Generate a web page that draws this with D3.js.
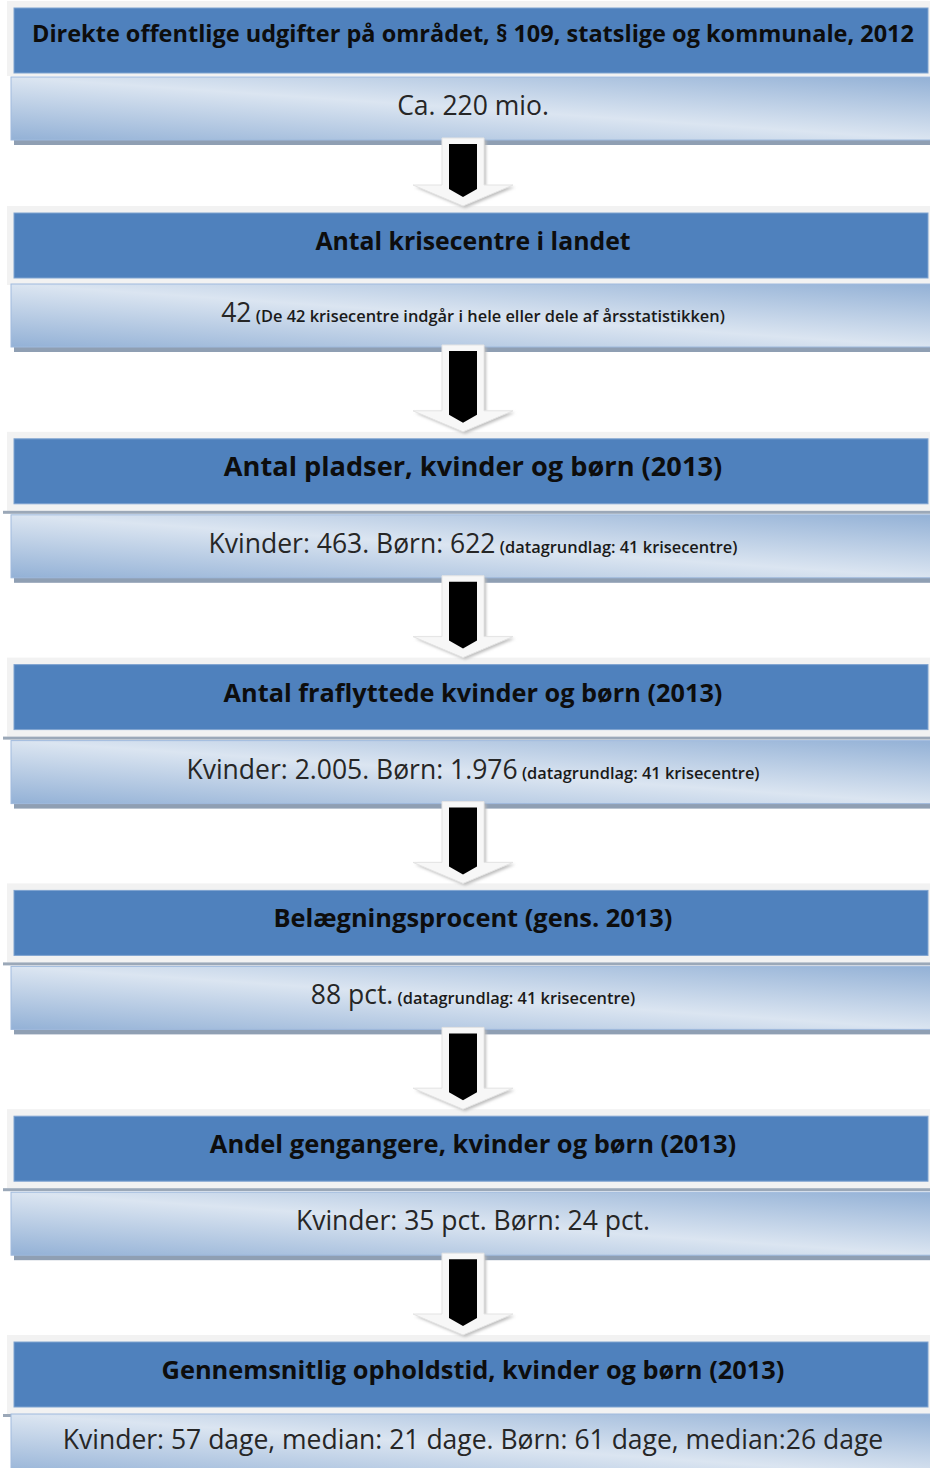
<!DOCTYPE html>
<html>
<head>
<meta charset="utf-8">
<script src="https://cdn.jsdelivr.net/npm/d3@7"></script>
<style>
  body { margin: 0; background: #fff; }
  svg { display: block; }
</style>
</head>
<body>
<script>
// flow boxes, top to bottom
let headers = [
  'Direkte offentlige udgifter på området, § 109, statslige og kommunale, 2012',
  'Antal krisecentre i landet',
  'Antal pladser, kvinder og børn (2013)',
  'Antal fraflyttede kvinder og børn (2013)',
  'Belægningsprocent (gens. 2013)',
  'Andel gengangere, kvinder og børn (2013)',
  'Gennemsnitlig opholdstid, kvinder og børn (2013)'
];
let mainValues = [
  'Ca. 220 mio.',
  '42',
  'Kvinder: 463. Børn: 622',
  'Kvinder: 2.005. Børn: 1.976',
  '88 pct.',
  'Kvinder: 35 pct. Børn: 24 pct.',
  'Kvinder: 57 dage, median: 21 dage. Børn: 61 dage, median:26 dage'
];
let notes = [
  '',
  '(De 42 krisecentre indgår i hele eller dele af årsstatistikken)',
  '(datagrundlag: 41 krisecentre)',
  '(datagrundlag: 41 krisecentre)',
  '(datagrundlag: 41 krisecentre)',
  '',
  ''
];
let headerFont = [23.5, 24.8, 27.2, 25.3, 25.4, 25.5, 25.4];

let width = 930;
let height = 1468;
let font = '"Open Sans", Lato, sans-serif';

let svg = d3.select('body')
  .append('svg')
  .attr('width', width)
  .attr('height', height);

let rows = d3.range(headers.length);

// header top of each row
let y = d3.scaleLinear().domain([0, 1, rows.length - 1]).range([8, 213, 1342]);
let headerX = 14;
let headerW = 914;
let headerH = 65;
let valueH = 63;
let arrowX = 463;

let valueTop = i => y(i) + (i === 0 ? 69 : i === 1 ? 71 : i === rows.length - 1 ? 72 : 76);

let defs = svg.append('defs');
let grad = defs.append('linearGradient')
  .attr('id', 'valueGrad')
  .attr('x1', 0).attr('y1', 1)
  .attr('x2', 1).attr('y2', 0);
grad.append('stop').attr('offset', 0).attr('stop-color', '#93b1d6');
grad.append('stop').attr('offset', 0.5).attr('stop-color', '#dbe5f1');
grad.append('stop').attr('offset', 1).attr('stop-color', '#93b1d6');

let blur = defs.append('filter').attr('id', 'soft')
  .attr('x', -0.2).attr('y', -0.2).attr('width', 1.4).attr('height', 1.4);
blur.append('feGaussianBlur').attr('stdDeviation', 1.5);

let g = svg.selectAll('g.row').data(rows)
  .enter().append('g')
  .attr('class', 'row');

// light frame behind header
g.append('rect')
  .attr('x', headerX - 7)
  .attr('y', i => y(i) - 7)
  .attr('width', width)
  .attr('height', i => i === 0 ? 75 : 79)
  .attr('fill', '#f2f2f2');

// dark line under frame
g.filter(i => i > 1).append('rect')
  .attr('x', headerX - 11)
  .attr('y', i => y(i) + 72)
  .attr('width', width)
  .attr('height', 3)
  .attr('fill', '#9ba8b8');

g.append('rect')
  .attr('x', headerX)
  .attr('y', i => y(i))
  .attr('width', headerW)
  .attr('height', headerH)
  .attr('fill', '#4f81bd')
  .attr('stroke', '#7fa3d0')
  .attr('stroke-width', 1);

g.append('text')
  .attr('x', headerX + headerW / 2 + 2)
  .attr('y', i => y(i) + (i === 0 ? 34 : 37))
  .attr('text-anchor', 'middle')
  .attr('font-family', font)
  .attr('font-weight', 'bold')
  .attr('font-size', i => headerFont[i])
  .attr('fill', '#0d0d0d')
  .text(i => headers[i]);

// value box with shadow
g.append('rect')
  .attr('x', headerX)
  .attr('y', i => valueTop(i) + 3)
  .attr('width', width)
  .attr('height', valueH + 2)
  .attr('fill', '#8f9fb3');

g.append('rect')
  .attr('x', headerX - 3)
  .attr('y', i => valueTop(i))
  .attr('width', headerW + 6)
  .attr('height', valueH)
  .attr('fill', 'url(#valueGrad)')
  .attr('stroke', '#9fbadd')
  .attr('stroke-width', 1);

let vt = g.append('text')
  .attr('x', headerX + headerW / 2 + 2)
  .attr('y', i => valueTop(i) + (i === rows.length - 1 ? 35 : 38))
  .attr('text-anchor', 'middle')
  .attr('font-family', font)
  .attr('fill', '#262626');

vt.append('tspan')
  .attr('font-size', 26.5)
  .text(i => mainValues[i]);

vt.filter(i => notes[i] !== '').append('tspan')
  .attr('font-size', 16.4)
  .attr('font-weight', 600)
  .attr('fill', '#1a1a1a')
  .text(i => '\u00a0' + notes[i]);

// arrows between rows
let arrows = rows.slice(0, -1).map(i => ({
  y0: valueTop(i) + valueH + 4,
  y1: y(i + 1) - 7
}));

function whiteArrow(d) {
  let head = d.y1 - 21;
  return [
    [arrowX - 21, d.y0 - 6], [arrowX + 21, d.y0 - 6], [arrowX + 21, head],
    [arrowX + 50, head], [arrowX, d.y1], [arrowX - 50, head], [arrowX - 21, head]
  ];
}

function blackArrow(d) {
  let head = d.y1 - 17;
  return [
    [arrowX - 14, d.y0], [arrowX + 14, d.y0], [arrowX + 14, head],
    [arrowX, d.y1 - 9], [arrowX - 14, head]
  ];
}

let line = d3.line();
let ag = svg.selectAll('g.arrow').data(arrows)
  .enter().append('g')
  .attr('class', 'arrow');

ag.append('path')
  .attr('d', d => line(whiteArrow(d)) + 'Z')
  .attr('transform', 'translate(2,2)')
  .attr('fill', '#bdbdbd')
  .attr('filter', 'url(#soft)');

ag.append('path')
  .attr('d', d => line(whiteArrow(d)) + 'Z')
  .attr('fill', '#f7f7f7')
  .attr('stroke', '#e4e4e4')
  .attr('stroke-width', 1);

ag.append('path')
  .attr('d', d => line(blackArrow(d)) + 'Z')
  .attr('fill', '#000');
</script>
</body>
</html>
